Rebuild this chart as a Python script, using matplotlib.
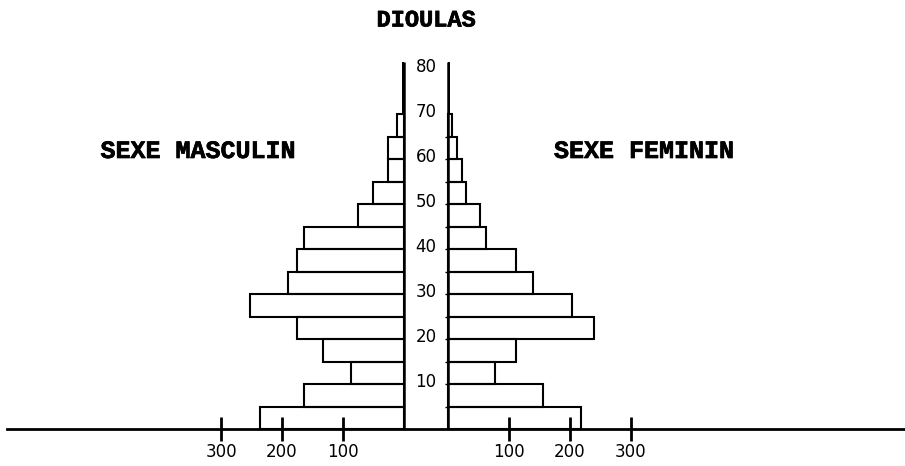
import matplotlib
matplotlib.use("Agg")
import matplotlib.pyplot as plt
import matplotlib.patheffects as pe

ages = [0, 5, 10, 15, 20, 25, 30, 35, 40, 45, 50, 55, 60, 65]
hommes = [236, 164, 87, 133, 176, 252, 190, 176, 164, 75, 51, 27, 26, 12]
femmes = [218, 156, 77, 112, 239, 204, 139, 112, 63, 52, 29, 23, 14, 7]
# 70 ans et plus : trait epais
hommes_70 = 4
femmes_70 = 4
age_labels = [10, 20, 30, 40, 50, 60, 70, 80]
x_ticks = [100, 200, 300]

W, H = 905, 466
G = 36            # demi-largeur de la bande centrale (unites)
SX = 0.61         # px par unite
SY = 4.5          # px par annee
CX, BY = 426, 429  # centre et base en pixels

fig = plt.figure(figsize=(W / 100, H / 100), dpi=100)
ax = fig.add_axes([0, 0, 1, 1])
ax.set_xlim(-CX / SX, (W - CX) / SX)
ax.set_ylim(-(H - BY) / SY, BY / SY)
ax.axis("off")

lw = 1.5
ax.barh(ages, [-v for v in hommes], left=-G, height=5, align="edge",
        fill=False, edgecolor="black", linewidth=lw)
ax.barh(ages, femmes, left=G, height=5, align="edge",
        fill=False, edgecolor="black", linewidth=lw)
ax.barh([70], [-hommes_70], left=-G, height=11.5, align="edge",
        color="black", linewidth=0)
ax.barh([70], [femmes_70], left=G, height=11.5, align="edge",
        color="black", linewidth=0)

# axes verticaux
ax.vlines([-G, G], 0, 81.5, color="black", linewidth=1.8)
# petits reperes sur l'axe droit
ax.hlines(ages[1:], G - 5, G, color="black", linewidth=1)

# ligne de base
ax.axhline(0, xmin=7 / W, xmax=1, color="black", linewidth=2)

# graduations des effectifs
for v in x_ticks:
    for s in (-1, 1):
        xp = s * (G + v)
        ax.plot([xp], [0], marker="|", markersize=17, mew=2, color="black")
        ax.text(xp, -5.2, str(v), ha="center", va="center",
                fontsize=12, family="DejaVu Sans")

for a in age_labels:
    ax.text(0, a + 0.4, str(a), ha="center", va="center", fontsize=12,
            family="DejaVu Sans")

thick = [pe.withStroke(linewidth=0.5, foreground="black")]
font = dict(family="Liberation Mono", weight="bold", color="black",
            path_effects=thick)
fig.text(CX / W, 1 - 20 / H, "DIOULAS", ha="center", va="center",
         fontsize=17, **font)
fig.text(198 / W, 1 - 151 / H, "SEXE MASCULIN", ha="center", va="center",
         fontsize=18, **font)
fig.text(644 / W, 1 - 151 / H, "SEXE FEMININ", ha="center", va="center",
         fontsize=18, **font)

fig.savefig("out.png", dpi=100)
